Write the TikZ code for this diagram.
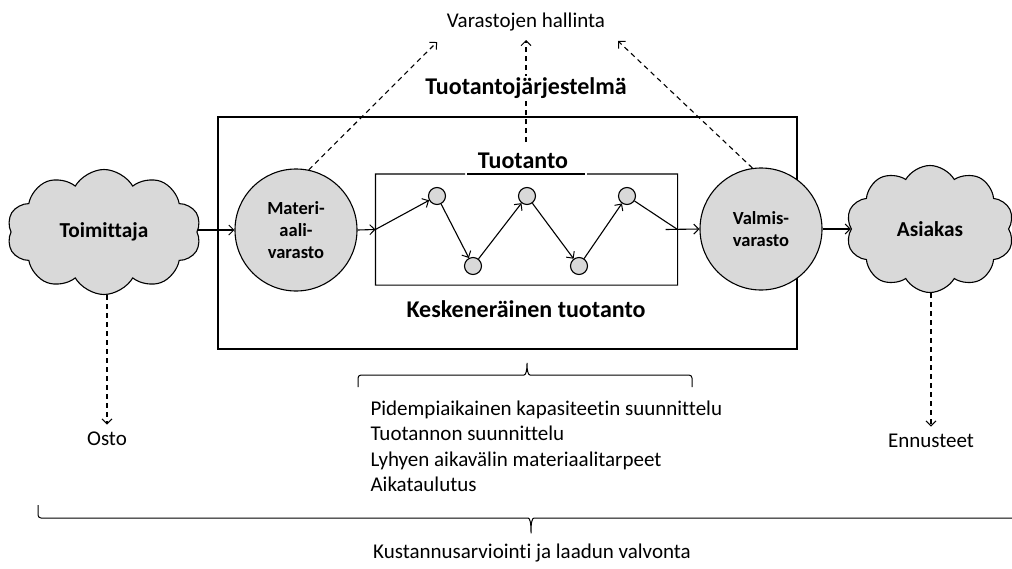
\documentclass[tikz,border=0pt]{standalone}
\usepackage{fontspec}
\setmainfont{Carlito}[Ligatures=NoCommon]
\usetikzlibrary{shapes.symbols,arrows.meta}
\definecolor{fillgray}{HTML}{D9D9D9}
\begin{document}
\begin{tikzpicture}[x=1pt,y=-1pt,line width=1.1pt,
  tip/.style={-{Straight Barb[length=5pt,width=10pt,line width=1pt]}},
  dashedarrow/.style={tip,dash pattern=on 5pt off 4pt},
  cloudnode/.style={cloud,cloud puffs=10,cloud puff arc=120,draw,fill=fillgray,
    inner sep=0pt,aspect=1.7,font=\fontsize{21.3}{24}\selectfont\bfseries},
  store/.style={circle,draw,fill=fillgray,minimum size=122pt,inner sep=0pt,
    align=center,font=\fontsize{18.5}{22}\selectfont\bfseries},
  dot/.style={circle,draw,fill=fillgray,minimum size=17pt,inner sep=0pt},
  heading/.style={font=\fontsize{24}{27}\selectfont\bfseries,inner sep=2pt},
  plain/.style={font=\fontsize{21}{25.5}\selectfont,inner sep=0pt}]
\useasboundingbox (0,0) rectangle (1012,568);
\clip (0,0) rectangle (1012,568);

% production system frame
\node[draw,minimum width=579pt,minimum height=232pt,inner sep=0pt] (sys) at (507.5,233) {};

% supplier, stores, customer
\node[cloudnode,minimum width=194pt,minimum height=125pt] (toim) at (104,232) {Toimittaja};
\node[cloudnode,minimum width=168pt,minimum height=127pt] (asi) at (930,229) {Asiakas};
\node[store] (mat) at (296,230) {Materi-\\aali-\\varasto};
\node[store] (val) at (761,229) {Valmis-\\varasto};

% work in progress box
\node[minimum width=301pt,minimum height=110pt,inner sep=0pt] (proc) at (526.5,229.5) {};
\draw (465,174) -- (proc.north west) -- (proc.south west) -- (proc.south east)
  -- (proc.north east) -- (587,174);
\draw (467,174) -- (585,174);

\node[dot] (d1) at (437,196) {};
\node[dot] (d2) at (473,266) {};
\node[dot] (d3) at (527,196) {};
\node[dot] (d4) at (579,266) {};
\node[dot] (d5) at (627,196) {};

% material flow
\draw[tip] (toim.east |- mat) -- (mat.west);
\draw[tip] (mat.east) -- (proc.west);
\draw[tip] (proc.west) -- (d1);
\draw[tip] (d1) -- (d2);
\draw[tip] (d2) -- (d3);
\draw[tip] (d3) -- (d4);
\draw[tip] (d4) -- (d5);
\draw (d5) -- (proc.east);
\draw[tip] ([xshift=-12pt]proc.east) -- (val.west);
\draw[tip] (val.east) -- (asi.west |- val.east);

% inventory management
\node[plain] (var) at (526,22) {Varastojen hallinta};
\coordinate (va1) at (437,42);
\coordinate (va2) at (526,40);
\coordinate (va3) at (618,41);
\coordinate (mid) at (526,142);
\draw[dashedarrow] (mat.78) -- (va1);
\draw[dashedarrow] (mid) -- (va2);
\draw[dashedarrow] (val.98) -- (va3);

\node[heading,fill=white] (ts) at (526,88) {Tuotantojärjestelmä};
\node[heading] (tuo) at (523,161) {Tuotanto};
\node[heading] (kes) at (526,309) {Keskeneräinen tuotanto};

% purchasing and forecasts
\node[plain] (osto) at (107,439) {Osto};
\node[plain] (enn) at (931,441) {Ennusteet};
\draw[dashedarrow] (toim.south -| osto.north) -- ([yshift=7pt]osto.north);
\draw[dashedarrow] (asi.south -| enn.north) -- ([yshift=7pt]enn.north);

% planning brace and list
\draw[line width=1pt,rounded corners=3pt] (358,387) -- (358,375) -- (521,375)
  .. controls (526,375) and (527,370) .. (527,361)
  .. controls (527,370) and (528,375) .. (533,375) -- (692,375) -- (692,387);
\node[plain,align=left,anchor=north west] (list) at (370,400)
  {Pidempiaikainen kapasiteetin suunnittelu\\Tuotannon suunnittelu\\
   Lyhyen aikavälin materiaalitarpeet\\Aikataulutus};

% cost and quality brace
\draw[line width=1pt,rounded corners=3pt] (38,505) -- (38,518) -- (525,518)
  .. controls (530,518) and (531,523) .. (531,535)
  .. controls (531,523) and (532,518) .. (537,518) -- (1024,518) -- (1024,505);
\node[plain] (kust) at (532,553) {Kustannusarviointi ja laadun valvonta};
\end{tikzpicture}
\end{document}
